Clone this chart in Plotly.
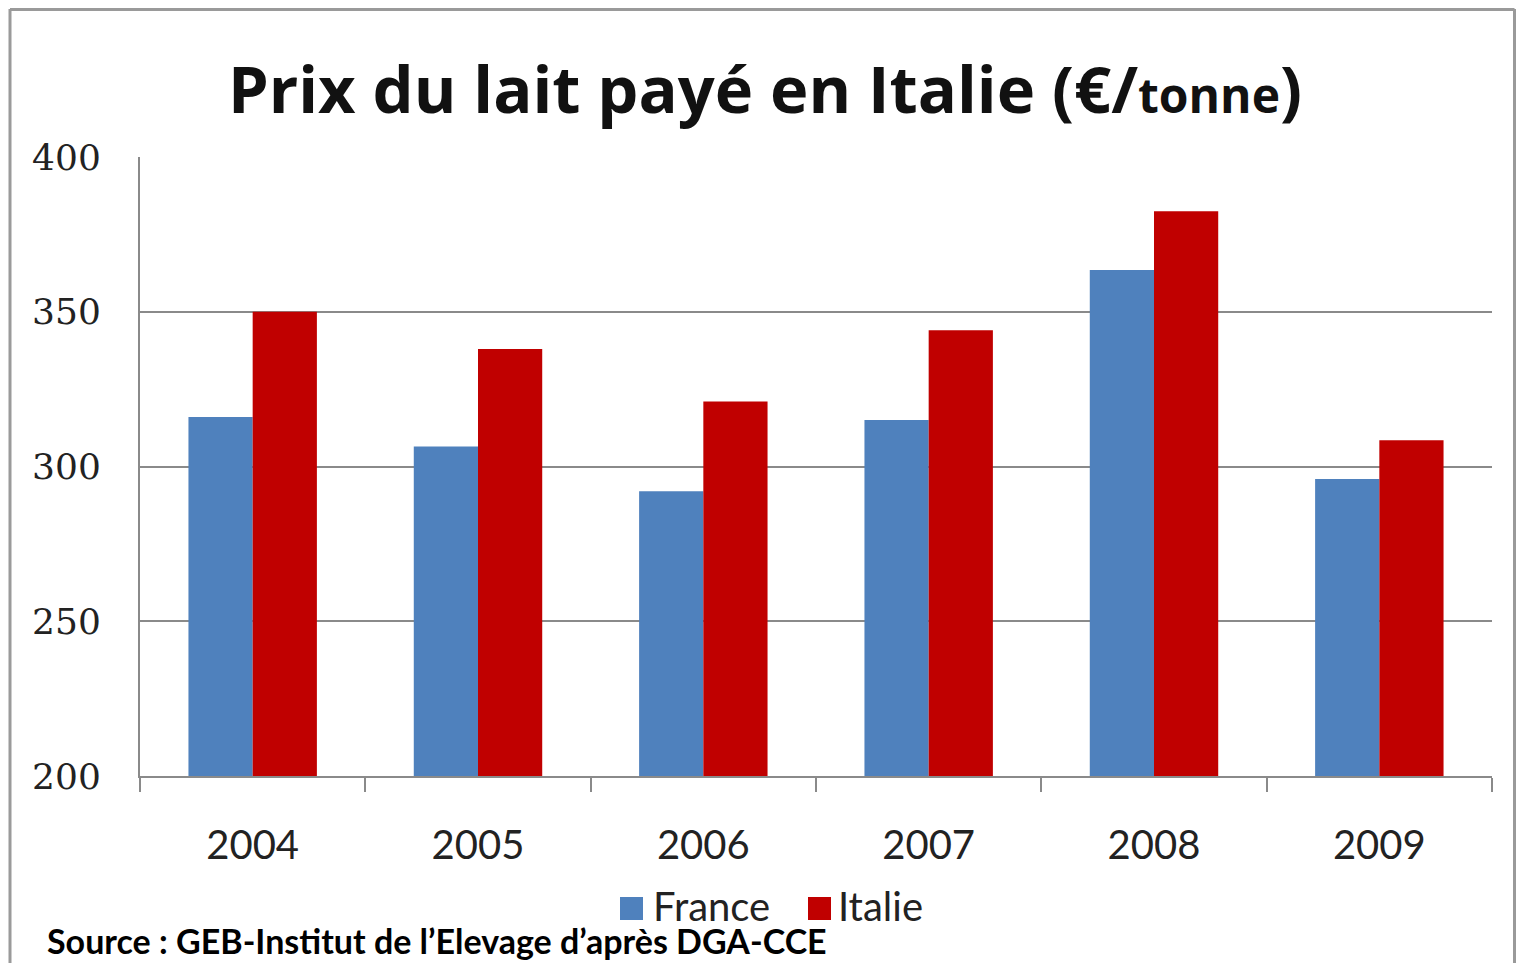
import plotly.graph_objects as go

years = ["2004", "2005", "2006", "2007", "2008", "2009"]
france = [316, 306.5, 292, 315, 363.5, 296]
italie = [350, 338, 321, 344, 382.5, 308.5]
series_names = ["France", "Italie"]
series_colors = ["#4F81BD", "#C00000"]
y_ticks = [200, 250, 300, 350, 400]

# page body has an 8px margin on every side: keep the figure inside the window
OFF = 8
W, H = 1525 - 2 * OFF, 971 - 2 * OFF
L, T = 140 - OFF, 157 - OFF
R = W - (1492 - OFF)
B = H - (776 - OFF)
PW, PH = W - L - R, H - T - B


def px(x):  # reference window pixel -> paper x
    return (x - OFF - L) / PW


def py(y):  # reference window pixel -> paper y
    return 1 - (y - OFF - T) / PH


fig = go.Figure()
for name, vals, col in zip(series_names, [france, italie], series_colors):
    fig.add_trace(go.Bar(x=years, y=vals, name=name, marker=dict(color=col, line=dict(width=0)),
                         showlegend=False))

frame = dict(color="#9a9a9a", width=3)
RX = OFF + W - 2.5
shapes = [
    dict(type="line", xref="paper", yref="paper", x0=px(10), x1=px(10), y0=py(9), y1=py(971), line=frame),
    dict(type="line", xref="paper", yref="paper", x0=px(10), x1=px(RX), y0=py(9.5), y1=py(9.5), line=frame),
    dict(type="line", xref="paper", yref="paper", x0=px(RX), x1=px(RX), y0=py(9), y1=py(971), line=frame),
    dict(type="rect", xref="paper", yref="paper", x0=px(620), x1=px(643), y0=py(897), y1=py(920),
         line=dict(width=0), fillcolor=series_colors[0]),
    dict(type="rect", xref="paper", yref="paper", x0=px(808), x1=px(831), y0=py(897), y1=py(920),
         line=dict(width=0), fillcolor=series_colors[1]),
]

annotations = [
    dict(xref="paper", yref="paper", x=px(651), y=py(906), text=series_names[0], showarrow=False,
         xanchor="left", yanchor="middle", font=dict(family="Lato", size=40, color="#222")),
    dict(xref="paper", yref="paper", x=px(836), y=py(906), text=series_names[1], showarrow=False,
         xanchor="left", yanchor="middle", font=dict(family="Lato", size=40, color="#222")),
    dict(xref="paper", yref="paper", x=px(45), y=py(940),
         text="<b>Source : GEB-Institut de l’Elevage d’après DGA-CCE</b>", showarrow=False,
         xanchor="left", yanchor="middle", font=dict(family="Lato", size=34, color="#000")),
]

fig.update_layout(
    width=W, height=H,
    margin=dict(l=L, r=R, t=T, b=B, pad=0),
    paper_bgcolor="white", plot_bgcolor="white",
    barmode="group", bargap=0.43, bargroupgap=0,
    title=dict(text="<b>Prix du lait payé en Italie (€/<span style='font-size:48px'>tonne</span>)</b>",
               x=(765 - OFF) / W, xanchor="center", y=1 - (90 - OFF) / H, yanchor="middle",
               xref="container", yref="container",
               font=dict(family="Open Sans", size=65, color="#111")),
    shapes=shapes, annotations=annotations,
    xaxis=dict(type="category", showline=True, linecolor="#8a8a8a", linewidth=2,
               ticks="outside", tickson="boundaries", ticklen=14, tickwidth=2, tickcolor="#8a8a8a",
               tickfont=dict(family="Lato", size=40, color="#222"), ticklabelstandoff=33,
               showgrid=False, mirror=False),
    yaxis=dict(range=[200, 400], tickvals=y_ticks, showline=True, linecolor="#8a8a8a", linewidth=2,
               showgrid=True, gridcolor="#8a8a8a", gridwidth=2, ticks="",
               tickfont=dict(family="DejaVu Serif", size=36, color="#222"), ticklabelstandoff=30,
               zeroline=False),
)

fig.write_html("out.html")
